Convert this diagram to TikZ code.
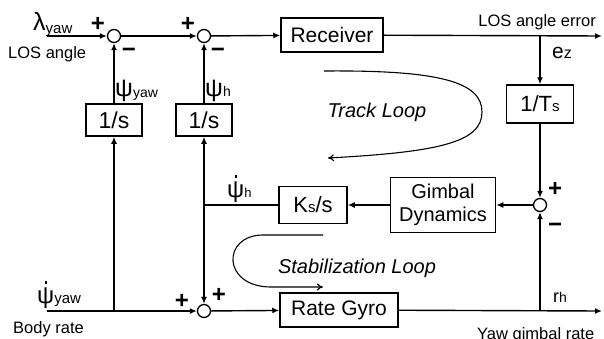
\documentclass[tikz,border=0pt]{standalone}
\usepackage{fontspec}
\setmainfont{Liberation Sans}
\usetikzlibrary{arrows.meta}
\newcommand{\fs}[1]{\fontsize{#1}{#1}\selectfont}
\newcommand{\dpsi}{{\ooalign{ψ\cr\hidewidth\raisebox{0.8em}{\rule{2.4pt}{2.4pt}}\hidewidth\cr}}}
\begin{document}
\begin{tikzpicture}[x=1pt,y=-1pt,
  wire/.style={line width=1.4pt},
  arr/.style={wire,-{Latex[length=7pt,width=6pt]}},
  loopc/.style={line width=1.1pt,-{To[length=6pt,width=7pt]}},
  block/.style={draw,line width=1.5pt,inner sep=0pt,font=\fs{21}},
  sumc/.style={draw,circle,line width=1.3pt,minimum size=13pt,inner sep=0pt},
  sgn/.style={font=\fs{24}\bfseries,inner sep=0pt},
  lbl/.style={inner sep=0pt,font=\fs{16.5}}]
\path[use as bounding box] (0,0) rectangle (604,338);
% nodes
\node[sumc] (s1) at (114,36) {};
\node[sumc] (s2) at (204,36) {};
\node[block,minimum width=102pt,minimum height=34pt] (rec) at (332,35) {Receiver};
\node[block,minimum width=56pt,minimum height=32pt,font=\fs{23}] (int1) at (114,120) {1/s};
\node[block,minimum width=56pt,minimum height=32pt,font=\fs{23}] (int2) at (204,120) {1/s};
\node[block,minimum width=67pt,minimum height=38pt] (ts) at (540,104) {{\fs{22}1/T}{\fs{15}s}};
\node[sumc] (s4) at (540,205) {};
\node[block,minimum width=105pt,minimum height=55pt,align=center,font=\fontsize{20}{23}\selectfont] (gd) at (443,205) {Gimbal\\Dynamics};
\node[block,minimum width=68pt,minimum height=37pt] (ks) at (313,205) {{\fs{22}K}{\fs{15}s}{\fs{22}/s}};
\node[sumc] (s3) at (204,311) {};
\node[block,minimum width=118pt,minimum height=34pt] (rg) at (339,310) {Rate Gyro};
% coordinates
\coordinate (inL) at (47,36);
\coordinate (outR) at (602,36);
\coordinate (inB) at (47,311);
\coordinate (outB) at (602,311);
\coordinate (jB1) at (114,311);
\coordinate (jTs) at (540,36);
\coordinate (jRg) at (540,311);
\coordinate (jKs) at (204,205);
% connectors
\draw[arr] (inL) -- (s1);
\draw[arr] (s1) -- (s2);
\draw[arr] (s2) -- (rec);
\draw[arr] (rec) -- (outR);
\draw[arr] (jTs) -- (ts);
\draw[arr] (ts) -- (s4);
\draw[arr] (jRg) -- (s4);
\draw[arr] (s4) -- (gd);
\draw[arr] (gd) -- (ks);
\draw[wire] (ks) -- (jKs);
\draw[arr] (jKs) -- (int2);
\draw[arr] (jKs) -- (s3);
\draw[arr] (int2) -- (s2);
\draw[arr] (int1) -- (s1);
\draw[arr] (jB1) -- (int1);
\draw[wire] (inB) -- (jB1);
\draw[arr] (jB1) -- (s3);
\draw[arr] (s3) -- (rg);
\draw[arr] (rg) -- (outB);
% signs
\node[sgn] (p1) at (98,24) {+};
\node[sgn] (m1) at (129,53) {−};
\node[sgn] (p2) at (188,24) {+};
\node[sgn] (m2) at (218,53) {−};
\node[sgn] (p3a) at (182,301) {+};
\node[sgn] (p3b) at (219,295) {+};
\node[sgn] (p4) at (555,189) {+};
\node[sgn] (m4) at (555,228) {−};
% labels
\node[lbl,anchor=base west] (lam) at (33,30) {{\fs{25}λ}\raisebox{-3pt}{\fs{15}yaw}};
\node[lbl,anchor=base west] (losa) at (8,58) {LOS angle};
\node[lbl,anchor=base east] (lose) at (596,26) {LOS angle error};
\node[lbl,anchor=base west] (psy) at (115,96) {{\fs{25}ψ}\raisebox{-1pt}{\fs{14}yaw}};
\node[lbl,anchor=base west] (psh) at (205,96) {{\fs{25}ψ}{\fs{14}h}};
\node[lbl,anchor=base west] (ez) at (552,58) {{\fs{21}e}{\fs{16}z}};
\node[lbl,anchor=base west] (dpsh) at (227,197) {{\fs{24}\dpsi}{\fs{13}h}};
\node[lbl,anchor=base west] (dpsy) at (37,303) {{\fs{24}\dpsi}{\fs{15}yaw}};
\node[lbl,anchor=base west] (body) at (13,333) {Body rate};
\node[lbl,anchor=base west] (rh) at (553,302) {{\fs{18}r}{\fs{14}h}};
\node[lbl,anchor=base west] (ygr) at (477,339) {Yaw gimbal rate};
\node[inner sep=0pt,font=\fs{20}\itshape] (tl) at (377,112) {Track Loop};
\node[inner sep=0pt,font=\fs{20}\itshape] (sl) at (357,268) {Stabilization Loop};
% loop curves
\draw[loopc] (324,71) .. controls (440,70) and (482,82) .. (482,112) .. controls (482,142) and (440,152) .. (328,158);
\draw[loopc] (323,235) -- (262,235) .. controls (222,236) and (222,286) .. (270,287) -- (323,287);
\end{tikzpicture}
\end{document}
